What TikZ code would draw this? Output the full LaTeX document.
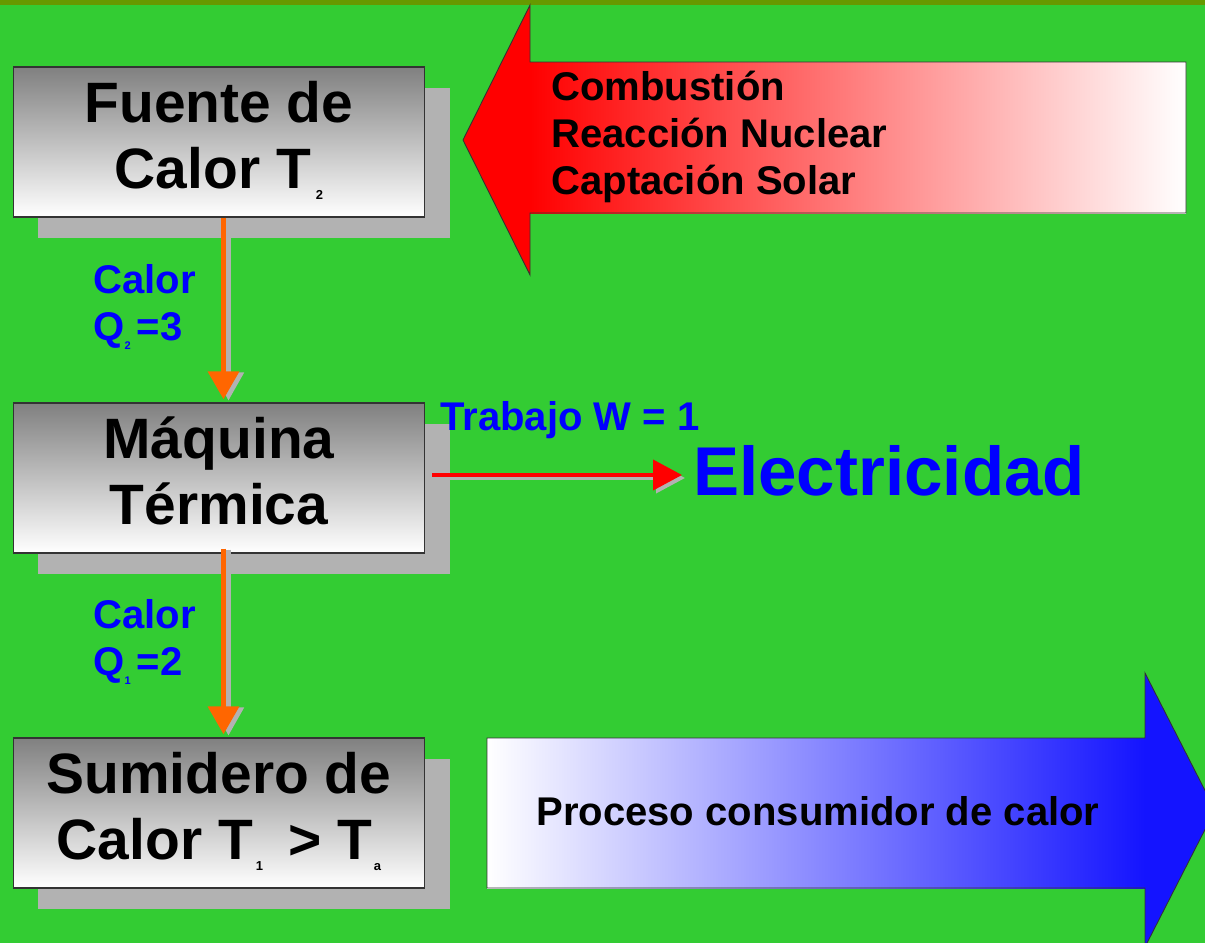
\documentclass[tikz,border=0pt]{standalone}
\usepackage{fontspec}
\setmainfont{Liberation Sans}
\usepackage{xcolor}
\usetikzlibrary{positioning, arrows.meta, shadows, calc}
\definecolor{slideGreen}{HTML}{33CC33}
\definecolor{stripOlive}{HTML}{669900}
\definecolor{boxTop}{HTML}{808080}
\definecolor{boxEdge}{HTML}{333333}
\definecolor{shadowGray}{HTML}{B2B2B2}
\definecolor{heatOrange}{HTML}{FF6600}
\definecolor{workRed}{HTML}{FF0000}
\definecolor{labelBlue}{HTML}{0000FF}
\definecolor{sinkBlue}{HTML}{1414FF}
% lowered small index, as the slide prints it
\newcommand{\lowsub}[3]{\raisebox{-#1}{\fontsize{#2}{#2}\selectfont #3}}
\begin{document}
\begin{tikzpicture}[
  x=0.02cm, y=-0.02cm,
  every node/.style={font=\bfseries},
  stage/.style={
    rectangle, draw=boxEdge, line width=0.6pt,
    top color=boxTop, bottom color=white,
    minimum width=8.24cm, minimum height=3cm, inner sep=0pt,
    font=\fontsize{32.4}{37.6}\selectfont\bfseries, align=center,
    drop shadow={shadow xshift=0.5cm, shadow yshift=-0.42cm, fill=shadowGray, opacity=1}
  },
  heat/.style={
    draw=heatOrange, line width=0.12cm,
    -{Triangle[width=0.6cm, length=0.56cm]}
  },
  heatshade/.style={
    draw=shadowGray, fill=shadowGray, line width=0.1cm,
    -{Triangle[width=0.6cm, length=0.56cm]},
    transform canvas={xshift=0.1cm, yshift=-0.02cm}
  },
  work/.style={
    draw=workRed, line width=0.08cm,
    -{Triangle[width=0.6cm, length=0.58cm]}
  },
  workshade/.style={
    draw=shadowGray, line width=0.08cm,
    -{Triangle[width=0.6cm, length=0.58cm]},
    transform canvas={xshift=0.06cm, yshift=-0.06cm}
  },
  flowlabel/.style={
    font=\fontsize{22.8}{26.7}\selectfont\bfseries,
    text=labelBlue, inner sep=0pt, align=left
  },
  blocktext/.style={
    font=\fontsize{22.8}{26.7}\selectfont\bfseries,
    text=black, inner sep=0pt, align=left
  },
]
\useasboundingbox (0,0) rectangle (1205,943);
\clip (0,0) rectangle (1205,943);

% === Background ===
\fill[slideGreen] (0,0) rectangle (1205,943);
\fill[stripOlive] (0,0) rectangle (1205,5);

% === Source arrow (points left) ===
\shade[left color=workRed, right color=white] (530,62) rectangle (1186,213);
\fill[workRed] (530,5) -- (463,140) -- (530,275) -- cycle;
\draw[boxEdge, line width=0.5pt]
  (1186,62) -- (530,62) -- (530,5) -- (463,140) -- (530,275) -- (530,213) -- (1186,213) -- cycle;
\node[blocktext, anchor=north west] (sources) at (551,67) {%
  \strut Combusti\'on\\\strut Reacci\'on Nuclear\\\strut Captaci\'on Solar};

% === Sink arrow (points right) ===
\shade[left color=white, right color=sinkBlue] (487,738) rectangle (1145,888);
\fill[sinkBlue] (1145,673) -- (1215,810) -- (1145,947) -- cycle;
\draw[boxEdge, line width=0.5pt]
  (487,738) -- (1145,738) -- (1145,673) -- (1215,810) -- (1145,947) -- (1145,888) -- (487,888) -- cycle;
\node[blocktext, anchor=base] (process) at (818,825) {Proceso consumidor de calor};

% === Stage boxes ===
\node[stage] (source) at (219,142) {%
  \strut Fuente de\\\strut Calor T\hspace{0.1cm}\lowsub{0.22cm}{7.4}{2}\hspace{0.1cm}};
\node[stage] (engine) at (219,478) {%
  \strut M\'aquina\\\strut T\'ermica};
\node[stage] (sink) at (219,813) {%
  \strut Sumidero de\\\strut Calor T\hspace{0.06cm}\lowsub{0.22cm}{7.4}{1}\hspace{0.5cm}> T\hspace{0.04cm}\lowsub{0.22cm}{7.4}{a}};

% === Heat flows ===
\draw[heatshade] ([xshift=0.09cm]source.south) -- ([xshift=0.09cm, yshift=0.06cm]engine.north);
\draw[heat] ([xshift=0.09cm]source.south) -- ([xshift=0.09cm, yshift=0.06cm]engine.north);
\draw[heatshade] ([xshift=0.09cm, yshift=0.1cm]engine.south) -- ([xshift=0.09cm, yshift=0.06cm]sink.north);
\draw[heat] ([xshift=0.09cm, yshift=0.1cm]engine.south) -- ([xshift=0.09cm, yshift=0.06cm]sink.north);

\node[flowlabel, anchor=north west] (qhot) at (93,260) {%
  \strut Calor\\\strut Q\lowsub{0.18cm}{6.3}{2}\hspace{0.12cm}=3};
\node[flowlabel, anchor=north west] (qcold) at (93,595) {%
  \strut Calor\\\strut Q\lowsub{0.18cm}{6.3}{1}\hspace{0.12cm}=2};

% === Work output ===
\node[font=\fontsize{39.3}{45}\selectfont\bfseries, text=labelBlue, inner sep=0pt,
  anchor=base west] (power) at (693,495) {Electricidad};
\draw[workshade] ([xshift=0.14cm, yshift=0.06cm]engine.east)
  -- ([xshift=-0.22cm, yshift=0.06cm]engine.east -| power.west);
\draw[work] ([xshift=0.14cm, yshift=0.06cm]engine.east)
  -- ([xshift=-0.22cm, yshift=0.06cm]engine.east -| power.west);
\node[flowlabel, anchor=base west] (worklabel) at (440,430) {Trabajo W = 1};

\end{tikzpicture}
\end{document}
